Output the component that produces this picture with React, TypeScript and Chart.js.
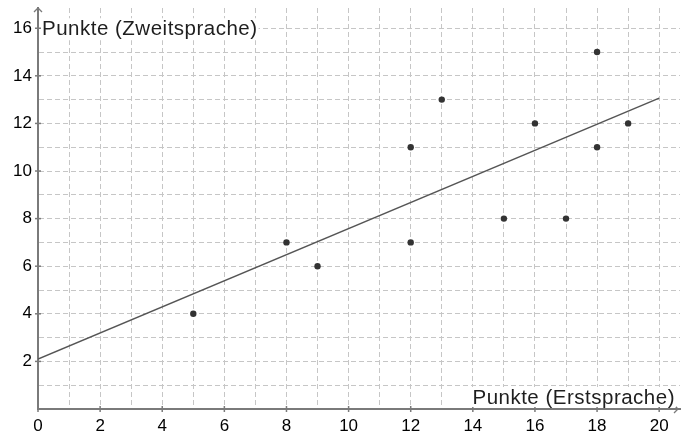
import React, { useEffect, useRef } from "react";
import { Chart, registerables } from "chart.js";

Chart.register(...registerables);

// Data
const xValues = [5, 8, 9, 12, 12, 13, 15, 16, 17, 18, 18, 19];
const yValues = [4, 7, 6, 11, 7, 13, 8, 12, 8, 15, 11, 12];
const lineRange = [0, 20];
const xAxisTitle = "Punkte (Erstsprache)";
const yAxisTitle = "Punkte (Zweitsprache)";
const xMin = 0;
const xMax = 20.67;
const yMin = 0;
const yMax = 16.85;

function regression(xs: number[], ys: number[]) {
  const n = xs.length;
  const mx = xs.reduce((a, b) => a + b, 0) / n;
  const my = ys.reduce((a, b) => a + b, 0) / n;
  let sxy = 0;
  let sxx = 0;
  for (let i = 0; i < n; i++) {
    sxy += (xs[i] - mx) * (ys[i] - my);
    sxx += (xs[i] - mx) * (xs[i] - mx);
  }
  const m = sxy / sxx;
  return { m, b: my - m * mx };
}

const FONT = "'Liberation Sans', Arial, sans-serif";
const AXIS_COLOR = "#7a7a7a";
const GRID_COLOR = "#c6c6c6";

const overlayPlugin = {
  id: "geoOverlay",
  afterDraw(chart: any) {
    const { ctx, chartArea, scales } = chart;
    const xs = scales.x;
    const ys = scales.y;
    const left = chartArea.left;
    const bottom = chartArea.bottom;
    ctx.save();
    ctx.strokeStyle = AXIS_COLOR;
    ctx.lineWidth = 1.5;
    // tick marks on labeled values
    for (let v = 0; v <= 20; v += 2) {
      const px = xs.getPixelForValue(v);
      ctx.beginPath();
      ctx.moveTo(px, bottom - (v === 0 ? 0 : 3));
      ctx.lineTo(px, bottom + 3);
      ctx.stroke();
    }
    for (let v = 2; v <= 16; v += 2) {
      const py = ys.getPixelForValue(v);
      ctx.beginPath();
      ctx.moveTo(left - 3, py);
      ctx.lineTo(left + 3, py);
      ctx.stroke();
    }
    // arrows
    ctx.lineWidth = 1.3;
    const top = chartArea.top;
    ctx.beginPath();
    ctx.moveTo(left - 4, top + 4);
    ctx.lineTo(left, top);
    ctx.lineTo(left + 4, top + 4);
    ctx.stroke();
    const right = chartArea.right - 2;
    ctx.beginPath();
    ctx.moveTo(right - 4, bottom - 4);
    ctx.lineTo(right, bottom);
    ctx.lineTo(right - 4, bottom + 4);
    ctx.stroke();

    // axis titles with white background
    ctx.font = `20.5px ${FONT}`;
    try {
      (ctx as any).letterSpacing = "0.5px";
    } catch (e) {}
    ctx.textBaseline = "middle";
    // y title
    const yTitleX = left + 4;
    const yTitleY = ys.getPixelForValue(16) + 1;
    const yw = ctx.measureText(yAxisTitle).width;
    ctx.fillStyle = "#ffffff";
    ctx.fillRect(yTitleX - 1, yTitleY - 11, yw + 2, 22);
    ctx.fillStyle = "#1e1e1e";
    ctx.textAlign = "left";
    ctx.fillText(yAxisTitle, yTitleX, yTitleY);
    // x title
    const xw = ctx.measureText(xAxisTitle).width;
    const xTitleRight = chartArea.right - 5;
    const xTitleY = bottom - 11;
    ctx.fillStyle = "#ffffff";
    ctx.fillRect(xTitleRight - xw - 1, xTitleY - 11, xw + 2, 20);
    ctx.fillStyle = "#1e1e1e";
    ctx.fillText(xAxisTitle, xTitleRight - xw, xTitleY);
    ctx.restore();
  },
};

export default function App() {
  const canvasRef = useRef<HTMLCanvasElement | null>(null);

  useEffect(() => {
    document.body.style.margin = "0";
    const canvas = canvasRef.current;
    if (!canvas) return;
    const { m, b } = regression(xValues, yValues);
    const linePoints = lineRange.map((x) => ({ x, y: m * x + b }));
    const scatterPoints = xValues.map((x, i) => ({ x, y: yValues[i] }));

    const gridColor = (c: any) => {
      const v = c.tick ? c.tick.value : 0;
      if (v === 0 || Math.abs(v - Math.round(v)) > 1e-6) return "rgba(0,0,0,0)";
      return GRID_COLOR;
    };

    const chart = new Chart(canvas, {
      type: "scatter",
      data: {
        datasets: [
          {
            data: linePoints,
            showLine: true,
            borderColor: "#555555",
            borderWidth: 1.5,
            pointRadius: 0,
            fill: false,
          } as any,
          {
            data: scatterPoints,
            backgroundColor: "#333333",
            borderColor: "#333333",
            pointRadius: 3.2,
            borderWidth: 0,
          },
        ],
      },
      options: {
        animation: false,
        responsive: false,
        devicePixelRatio: 1,
        layout: { padding: { top: 8, right: 0, left: 0, bottom: 0 } },
        plugins: {
          legend: { display: false },
          tooltip: { enabled: false },
        },
        scales: {
          x: {
            type: "linear",
            min: xMin,
            max: xMax,
            afterFit: (s: any) => {
              s.height = 27;
              s.paddingLeft = 0;
              s.paddingRight = 0;
            },
            ticks: {
              stepSize: 1,
              includeBounds: false,
              autoSkip: false,
              maxRotation: 0,
              padding: 7,
              color: "#000000",
              font: { family: FONT, size: 17 },
              callback: (v: any) => {
                const n = Number(v);
                return Math.abs(n - Math.round(n)) < 1e-6 && Math.round(n) % 2 === 0 ? String(Math.round(n)) : "";
              },
            },
            grid: {
              color: gridColor,
              lineWidth: 1,
              drawTicks: false,
            } as any,
            border: { display: true, color: AXIS_COLOR, width: 2, dash: [5, 3] } as any,
          },
          y: {
            type: "linear",
            min: yMin,
            max: yMax,
            afterFit: (s: any) => {
              s.width = 38;
              s.paddingTop = 0;
              s.paddingBottom = 0;
            },
            ticks: {
              stepSize: 1,
              includeBounds: false,
              autoSkip: false,
              padding: 6,
              color: "#000000",
              font: { family: FONT, size: 17 },
              callback: (v: any) => {
                const n = Number(v);
                return n > 0 && Math.abs(n - Math.round(n)) < 1e-6 && Math.round(n) % 2 === 0 ? String(Math.round(n)) : "";
              },
            },
            grid: {
              color: gridColor,
              lineWidth: 1,
              drawTicks: false,
            },
            border: { display: true, color: AXIS_COLOR, width: 2, dash: [5, 3] } as any,
          },
        },
      },
      plugins: [overlayPlugin],
    });
    return () => chart.destroy();
  }, []);

  return (
    <div style={{ position: "absolute", left: 0, top: 0, width: 684, height: 436, background: "#fff" }}>
      <canvas ref={canvasRef} width={684} height={436} />
    </div>
  );
}
